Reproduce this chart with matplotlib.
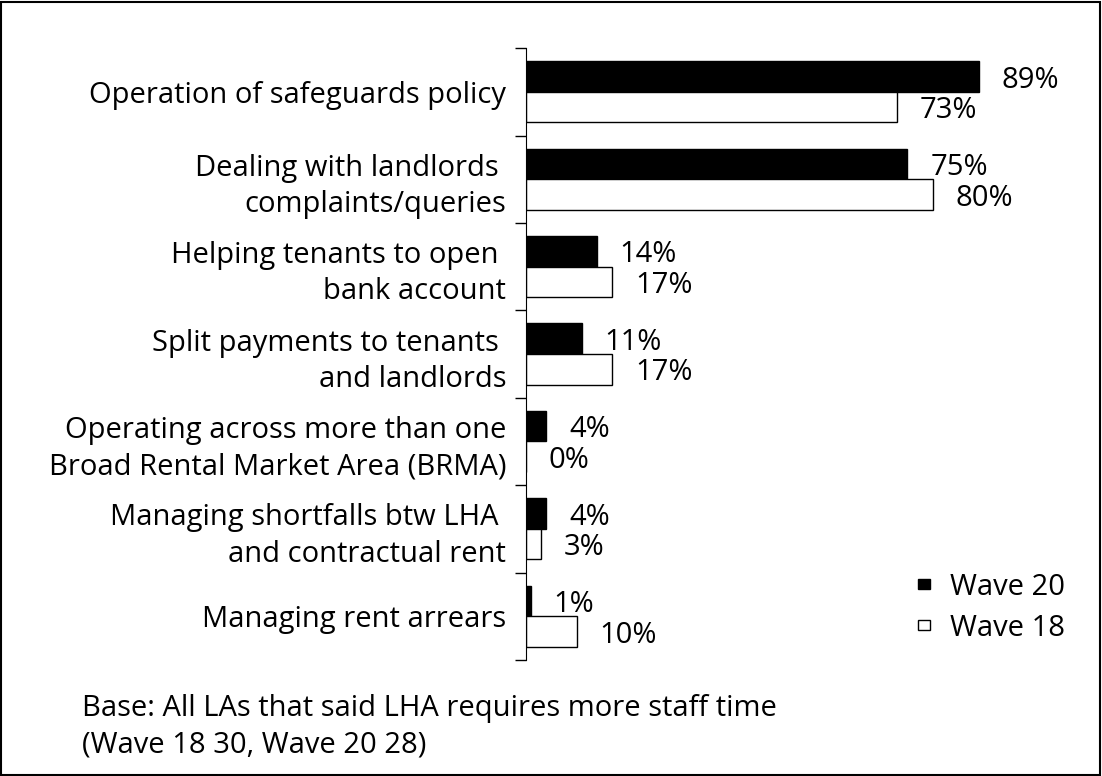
import matplotlib.pyplot as plt
import numpy as np
from matplotlib.patches import Rectangle

plt.rcParams['font.family'] = ['Open Sans', 'DejaVu Sans']

categories = ['Operation of safeguards policy',
              'Dealing with landlords \ncomplaints/queries',
              'Helping tenants to open \nbank account',
              'Split payments to tenants \nand landlords',
              'Operating across more than one\nBroad Rental Market Area (BRMA)',
              'Managing shortfalls btw LHA \nand contractual rent',
              'Managing rent arrears']
wave20 = [89, 75, 14, 11, 4, 4, 1]
wave18 = [73, 80, 17, 17, 0, 3, 10]

FS = 21

fig = plt.figure(figsize=(11.02, 7.76), dpi=100)
ax = fig.add_axes([0.477, 0.1495, 0.508, 0.7885])

y = np.arange(len(categories))
h = 0.35
ax.barh(y - h / 2, wave20, height=h, color='black', edgecolor='black', linewidth=1, label='Wave 20')
ax.barh(y + h / 2, wave18, height=h, color='white', edgecolor='black', linewidth=1, label='Wave 18')

for i in range(len(categories)):
    ax.text(wave20[i] + 4.5, y[i] - h / 2, f'{wave20[i]}%', va='center_baseline', ha='left', fontsize=FS)
    ax.text(wave18[i] + 4.5, y[i] + h / 2, f'{wave18[i]}%', va='center_baseline', ha='left', fontsize=FS)

ax.set_xlim(0, 110)
ax.set_ylim(len(categories) - 0.5, -0.5)
ax.set_yticks(np.arange(-0.5, len(categories), 1))
ax.set_yticklabels([])
ax.set_yticks(y, minor=True)
ax.set_yticklabels(categories, minor=True, fontsize=FS, linespacing=1.33)
ax.tick_params(axis='y', which='major', length=8, direction='out', width=1)
ax.tick_params(axis='y', which='minor', length=0, pad=14)
ax.set_xticks([])
for s in ['top', 'right', 'bottom']:
    ax.spines[s].set_visible(False)

leg = ax.legend(loc='lower right', bbox_to_anchor=(1.0, -0.005), frameon=False, fontsize=FS,
                handlelength=0.4, handleheight=0.15, handletextpad=0.7, labelspacing=0.4,
                borderpad=0.2)

fig.text(0.074, 0.063, 'Base: All LAs that said LHA requires more staff time\n(Wave 18 30, Wave 20 28)',
         fontsize=FS, va='center', ha='left', linespacing=1.33)

fig.patches.append(Rectangle((0.001, 0.001), 0.997, 0.997, transform=fig.transFigure,
                             fill=False, edgecolor='black', linewidth=1.5))

fig.savefig('out.png', dpi=100)
